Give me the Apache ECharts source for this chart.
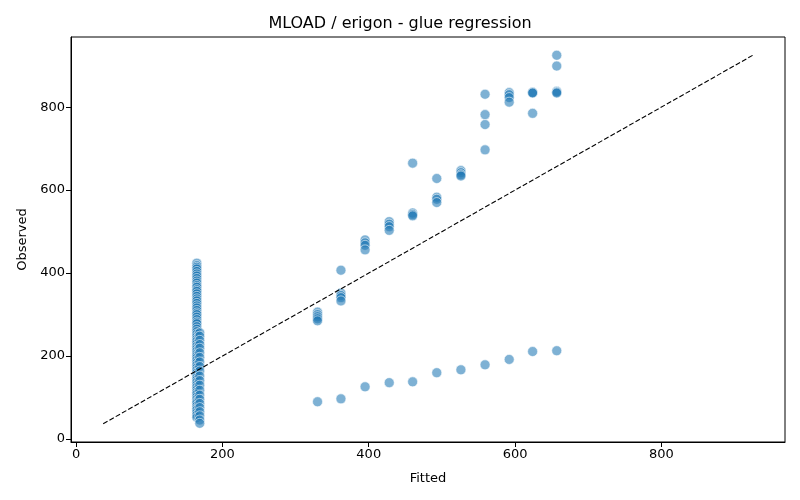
<!DOCTYPE html>
<html>
<head>
<meta charset="UTF-8">
<title>MLOAD / erigon - glue regression</title>
<style>
    * { margin: 0; padding: 0; }
    html, body { width: 100%; height: 100%; background: #fff; }
    #chart { width: 800px; height: 500px; }
</style>
</head>
<body>
<div id="chart"></div>
<script src="https://cdn.jsdelivr.net/npm/echarts@6/dist/echarts.min.js"></script>
<script>
    // dense column of low fitted values
    var lowFitA = 165;
    var lowObsA = [424, 418, 414, 410, 404, 398, 393, 387, 381, 376, 370, 366, 360, 356, 350, 344,
        338, 333, 327, 321, 316, 310, 304, 300, 294, 288, 282, 278, 271, 265, 259, 253, 247, 241,
        236, 230, 224, 218, 212, 206, 201, 196, 190, 184, 178, 172, 166, 160, 154, 148, 143, 137,
        131, 125, 119, 113, 108, 102, 96, 90, 86, 80, 74, 70, 64, 58, 52];
    var lowFitB = 169;
    var lowObsB = [256, 248, 238, 228, 219, 208, 197, 186, 175, 164, 152, 141, 130, 118, 106, 96,
        86, 76, 66, 56, 46, 38];

    // stepped fitted values and their observed groups
    var fitSteps = [330, 362, 395, 428, 460, 493, 526, 559, 592, 624, 657];
    var upperObs = [
        [306, 300, 295, 290, 285],
        [407, 352, 346, 341, 333],
        [480, 473, 467, 456],
        [524, 518, 512, 503],
        [665, 545, 541, 538],
        [628, 583, 578, 570],
        [647, 642, 637, 634],
        [831, 782, 758, 697],
        [835, 830, 823, 812],
        [836, 835, 834, 785],
        [925, 899, 838, 836, 834]
    ];
    var lowerObs = [90, 97, 126, 136, 138, 160, 167, 179, 192, 211, 213];

    var lineEnds = [37, 925];

    var points = [];
    lowObsA.forEach(function (v) { points.push([lowFitA, v]); });
    lowObsB.forEach(function (v) { points.push([lowFitB, v]); });
    fitSteps.forEach(function (f, i) {
        upperObs[i].forEach(function (v) { points.push([f, v]); });
        points.push([f, lowerObs[i]]);
    });

    var tickVals = [0, 200, 400, 600, 800];
    var font = 'DejaVu Sans';

    function makeAxis(name, gap) {
        return {
            type: 'value',
            min: -7,
            max: 969,
            name: name,
            nameLocation: 'middle',
            nameGap: gap,
            nameTextStyle: { color: '#000', fontSize: 13, fontFamily: font },
            splitLine: { show: false },
            axisLine: { show: true, onZero: false, lineStyle: { color: '#000', width: 1 } },
            axisTick: { show: true, length: 5, customValues: tickVals, lineStyle: { color: '#000' } },
            axisLabel: { customValues: tickVals, color: '#000', fontSize: 13, fontFamily: font, margin: 6 }
        };
    }

    var myChart = echarts.init(document.getElementById('chart'));
    var option = {
        animation: false,
        title: {
            text: 'MLOAD / erigon - glue regression',
            left: 'center',
            top: 11,
            textStyle: { color: '#000', fontSize: 16, fontWeight: 'normal', fontFamily: font }
        },
        grid: {
            left: 71, right: 15, top: 37, bottom: 58,
            show: true, borderColor: '#000', borderWidth: 1, backgroundColor: 'transparent'
        },
        xAxis: makeAxis('Fitted', 30),
        yAxis: makeAxis('Observed', 40),
        series: [
            {
                type: 'scatter',
                data: points,
                symbolSize: 10,
                itemStyle: { color: 'rgba(31,119,180,0.72)', borderColor: '#fff', borderWidth: 0.7 },
                z: 2
            },
            {
                type: 'line',
                data: [[lineEnds[0], lineEnds[0]], [lineEnds[1], lineEnds[1]]],
                symbol: 'none',
                lineStyle: { color: '#000', width: 1.1, type: [5, 2.2] },
                z: 3
            }
        ]
    };
    myChart.setOption(option);
</script>
</body>
</html>
